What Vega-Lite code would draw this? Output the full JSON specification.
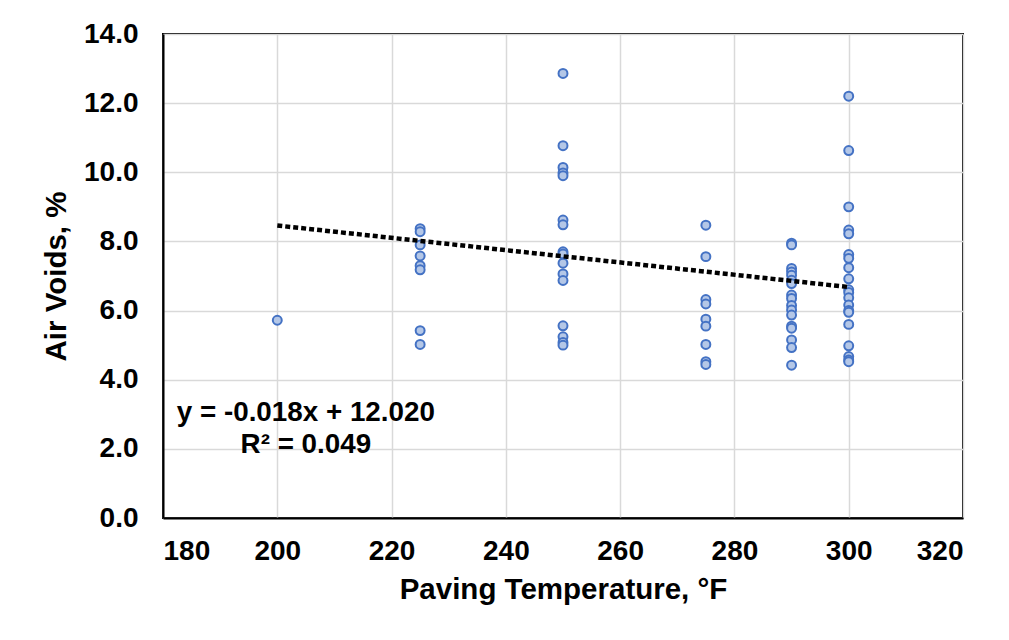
{
  "$schema": "https://vega.github.io/schema/vega-lite/v6.json",
  "width": 800,
  "height": 484,
  "autosize": "none",
  "padding": {"left": 163, "top": 34, "right": 46, "bottom": 122},
  "background": "white",
  "config": {
    "font": "Liberation Sans",
    "view": {"stroke": "black", "strokeWidth": 2}
  },
  "datasets": {
    "obs": [
      {"t": 200, "v": 5.72},
      {"t": 225, "v": 8.37}, {"t": 225, "v": 8.28}, {"t": 225, "v": 7.90}, {"t": 225, "v": 7.58}, {"t": 225, "v": 7.30}, {"t": 225, "v": 7.18}, {"t": 225, "v": 5.42}, {"t": 225, "v": 5.02},
      {"t": 250, "v": 12.86}, {"t": 250, "v": 10.77}, {"t": 250, "v": 10.14}, {"t": 250, "v": 9.98}, {"t": 250, "v": 9.90}, {"t": 250, "v": 8.62}, {"t": 250, "v": 8.48}, {"t": 250, "v": 7.70}, {"t": 250, "v": 7.64}, {"t": 250, "v": 7.37}, {"t": 250, "v": 7.06}, {"t": 250, "v": 6.87}, {"t": 250, "v": 5.56}, {"t": 250, "v": 5.24}, {"t": 250, "v": 5.08}, {"t": 250, "v": 5.00},
      {"t": 275, "v": 8.47}, {"t": 275, "v": 7.56}, {"t": 275, "v": 6.32}, {"t": 275, "v": 6.19}, {"t": 275, "v": 5.75}, {"t": 275, "v": 5.55}, {"t": 275, "v": 5.02}, {"t": 275, "v": 4.52}, {"t": 275, "v": 4.44},
      {"t": 290, "v": 7.95}, {"t": 290, "v": 7.90}, {"t": 290, "v": 7.22}, {"t": 290, "v": 7.12}, {"t": 290, "v": 7.02}, {"t": 290, "v": 6.88}, {"t": 290, "v": 6.78}, {"t": 290, "v": 6.45}, {"t": 290, "v": 6.35}, {"t": 290, "v": 6.15}, {"t": 290, "v": 6.02}, {"t": 290, "v": 5.87}, {"t": 290, "v": 5.55}, {"t": 290, "v": 5.49}, {"t": 290, "v": 5.15}, {"t": 290, "v": 4.93}, {"t": 290, "v": 4.42},
      {"t": 300, "v": 12.20}, {"t": 300, "v": 10.63}, {"t": 300, "v": 9.00}, {"t": 300, "v": 8.33}, {"t": 300, "v": 8.22}, {"t": 300, "v": 7.62}, {"t": 300, "v": 7.51}, {"t": 300, "v": 7.24}, {"t": 300, "v": 6.92}, {"t": 300, "v": 6.60}, {"t": 300, "v": 6.52}, {"t": 300, "v": 6.37}, {"t": 300, "v": 6.16}, {"t": 300, "v": 6.00}, {"t": 300, "v": 5.95}, {"t": 300, "v": 5.60}, {"t": 300, "v": 4.98}, {"t": 300, "v": 4.67}, {"t": 300, "v": 4.57}, {"t": 300, "v": 4.52}
    ],
    "trend": [
      {"t": 200, "v": 8.46},
      {"t": 300, "v": 6.68}
    ],
    "label": [
      {"t": 205, "v": 3.05, "text": ["y = -0.018x + 12.020", "R² = 0.049"]}
    ]
  },
  "encoding": {
    "x": {
      "field": "t", "type": "quantitative",
      "scale": {"domain": [180, 320], "nice": false, "zero": false},
      "axis": {
        "title": "Paving Temperature, °F",
        "values": [180, 200, 220, 240, 260, 280, 300, 320],
        "grid": true, "gridColor": "#D9D9D9", "gridWidth": 1.5,
        "domainColor": "black", "domainWidth": 2,
        "ticks": false, "labelPadding": 19,
        "labelFontSize": 28, "labelFontWeight": "bold", "labelColor": "black",
        "titleFontSize": 29.5, "titleFontWeight": "bold", "titleColor": "black", "titlePadding": 10
      }
    },
    "y": {
      "field": "v", "type": "quantitative",
      "scale": {"domain": [0, 14], "nice": false},
      "axis": {
        "title": "Air Voids, %",
        "values": [0, 2, 4, 6, 8, 10, 12, 14],
        "format": ".1f",
        "grid": true, "gridColor": "#D9D9D9", "gridWidth": 1.5,
        "domainColor": "black", "domainWidth": 2,
        "ticks": false, "labelPadding": 25,
        "labelFontSize": 28, "labelFontWeight": "bold", "labelColor": "black",
        "titleFontSize": 29.5, "titleFontWeight": "bold", "titleColor": "black", "titlePadding": 12
      }
    }
  },
  "layer": [
    {
      "data": {"name": "obs"},
      "mark": {"type": "point", "shape": "circle", "filled": true, "size": 80, "fill": "#B4C7E7", "stroke": "#4472C4", "strokeWidth": 2, "opacity": 1}
    },
    {
      "data": {"name": "trend"},
      "mark": {"type": "line", "color": "black", "strokeWidth": 4.5, "strokeDash": [5, 3]}
    },
    {
      "data": {"name": "label"},
      "mark": {"type": "text", "fontSize": 27.8, "fontWeight": "bold", "color": "black", "align": "center", "baseline": "middle", "lineHeight": 32},
      "encoding": {
        "text": {"field": "text"}
      }
    }
  ]
}
